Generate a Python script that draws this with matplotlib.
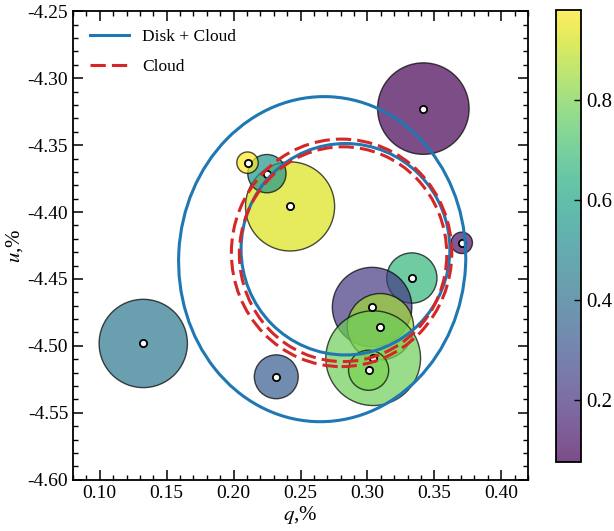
import matplotlib
matplotlib.use("Agg")
import matplotlib.pyplot as plt
from matplotlib.patches import Circle, Ellipse
from matplotlib.collections import PatchCollection
from matplotlib.lines import Line2D
from matplotlib.ticker import MultipleLocator, FormatStrFormatter

plt.rcParams['font.family'] = ['Liberation Serif', 'DejaVu Serif']
plt.rcParams['mathtext.fontset'] = 'stix'

# measurement points (q, u in %), error-circle radii and colour values
q_vals = [0.3418, 0.2422, 0.2249, 0.2104, 0.3705, 0.3332, 0.3035, 0.3097,
          0.3043, 0.3009, 0.2319, 0.1325]
u_vals = [-4.3227, -4.3958, -4.3713, -4.3631, -4.4230, -4.4493, -4.4710,
          -4.4857, -4.5092, -4.5182, -4.5231, -4.4982]
radii = [0.0342, 0.0333, 0.0143, 0.0080, 0.0080, 0.0188, 0.0297, 0.0248,
         0.0354, 0.0150, 0.0164, 0.0330]
c_vals = [0.075, 0.93, 0.55, 0.98, 0.12, 0.67, 0.22, 0.85, 0.78, 0.80,
          0.33, 0.43]

# model loops: (centre q, centre u, width, height, angle)
disk_cloud_loops = [(0.2662, -4.4352, 0.2145, 0.243, -3.0),
                    (0.2836, -4.4278, 0.156, 0.158, 0.0)]
cloud_loops = [(0.2807, -4.4305, 0.1647, 0.170, 0.0),
               (0.2818, -4.4315, 0.155, 0.1605, 0.0)]

BLUE = '#1f77b4'
RED = '#d62728'
DASH = (0, (5, 2))

fig = plt.figure(figsize=(6.14, 5.31), dpi=100)
ax = fig.add_axes([73/614, 51/531, 455/614, 469/531])
cax = fig.add_axes([556/614, 69/531, 25/614, 452/531])

patches = [Circle((q, u), r) for q, u, r in zip(q_vals, u_vals, radii)]
pc = PatchCollection(patches, cmap='viridis', alpha=0.7,
                     edgecolor='k', linewidths=1.0, zorder=2)
pc.set_array(c_vals)
pc.set_clim(min(c_vals), max(c_vals))
ax.add_collection(pc)

ax.plot(q_vals, u_vals, 'o', ms=5.2, mfc='white', mec='black', mew=1.3,
        ls='none', zorder=3)

for cx, cy, w, h, a in disk_cloud_loops:
    ax.add_patch(Ellipse((cx, cy), w, h, angle=a, fill=False,
                         edgecolor=BLUE, lw=2.2, zorder=4))
for cx, cy, w, h, a in cloud_loops:
    ax.add_patch(Ellipse((cx, cy), w, h, angle=a, fill=False,
                         edgecolor=RED, lw=2.2, ls=DASH, zorder=5))

ax.set_xlim(0.08, 0.42)
ax.set_ylim(-4.60, -4.25)
ax.set_aspect('equal', adjustable='box')

ax.xaxis.set_major_locator(MultipleLocator(0.05))
ax.xaxis.set_minor_locator(MultipleLocator(0.01))
ax.yaxis.set_major_locator(MultipleLocator(0.05))
ax.yaxis.set_minor_locator(MultipleLocator(0.01))
ax.xaxis.set_major_formatter(FormatStrFormatter('%.2f'))
ax.yaxis.set_major_formatter(FormatStrFormatter('%.2f'))
ax.tick_params(which='both', direction='in', top=True, right=True,
               labelsize=14)
ax.tick_params(which='major', length=7, width=1.1)
ax.tick_params(which='minor', length=3.5, width=1.0)
for s in ax.spines.values():
    s.set_linewidth(1.3)

ax.set_xlabel(r'$q$,%', fontsize=15, labelpad=2)
ax.set_ylabel(r'$u$,%', fontsize=15, labelpad=2)

handles = [Line2D([], [], color=BLUE, lw=2.2),
           Line2D([], [], color=RED, lw=2.2, ls=DASH)]
ax.legend(handles, ['Disk + Cloud', 'Cloud'], loc='upper left',
          frameon=False, fontsize=12.5, handlelength=2.2,
          labelspacing=0.8, borderaxespad=0.6)

cb = fig.colorbar(pc, cax=cax)
cb.set_ticks([0.2, 0.4, 0.6, 0.8])
cb.ax.tick_params(direction='in', labelsize=15, length=5, width=1.0)
cb.outline.set_linewidth(1.3)

fig.savefig('out.png', dpi=100)
